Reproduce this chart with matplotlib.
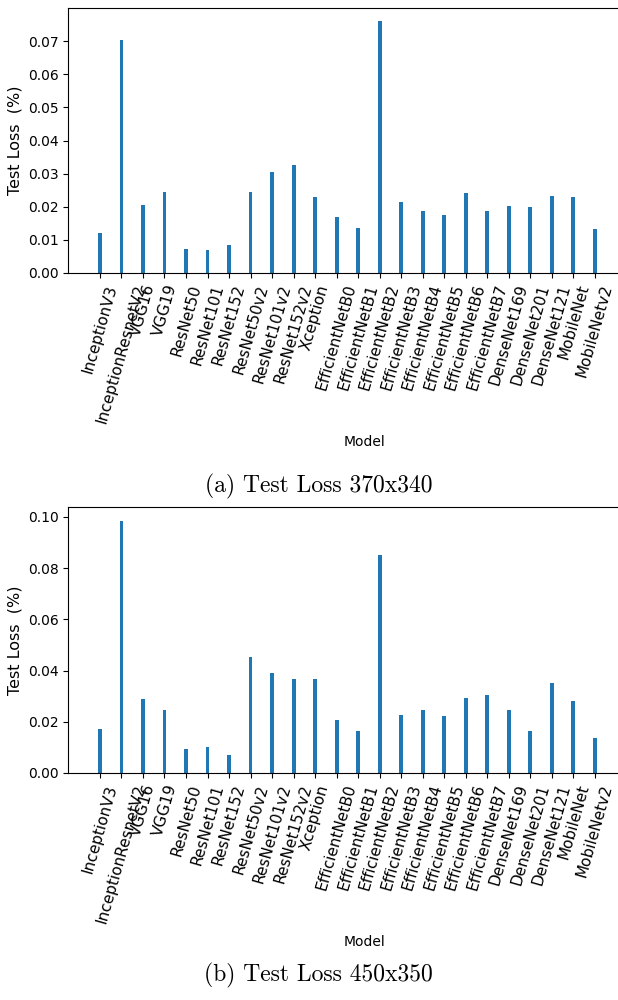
"""Test loss per backbone at two input resolutions, stacked as (a) and (b)."""
import matplotlib
matplotlib.use("Agg")

import matplotlib.pyplot as plt
import numpy as np

models = [
    "InceptionV3", "InceptionResnetV2", "VGG16", "VGG19",
    "ResNet50", "ResNet101", "ResNet152",
    "ResNet50v2", "ResNet101v2", "ResNet152v2", "Xception",
    "EfficientNetB0", "EfficientNetB1", "EfficientNetB2", "EfficientNetB3",
    "EfficientNetB4", "EfficientNetB5", "EfficientNetB6", "EfficientNetB7",
    "DenseNet169", "DenseNet201", "DenseNet121", "MobileNet", "MobileNetv2",
]

loss_370x340 = [
    0.0121, 0.0704, 0.0204, 0.0246, 0.0072, 0.0068, 0.0084,
    0.0244, 0.0306, 0.0326, 0.0230,
    0.0170, 0.0137, 0.0762, 0.0215, 0.0187, 0.0174, 0.0241, 0.0186,
    0.0201, 0.0199, 0.0231, 0.0230, 0.0133,
]

loss_450x350 = [
    0.0171, 0.0986, 0.0288, 0.0248, 0.0095, 0.0100, 0.0070,
    0.0454, 0.0390, 0.0368, 0.0366,
    0.0206, 0.0165, 0.0851, 0.0226, 0.0245, 0.0224, 0.0291, 0.0305,
    0.0248, 0.0166, 0.0351, 0.0280, 0.0137,
]

panels = [
    (loss_370x340, np.arange(0, 0.071, 0.01), 0.0800, "(a) Test Loss 370x340"),
    (loss_450x350, np.arange(0, 0.101, 0.02), 0.1039, "(b) Test Loss 450x350"),
]

BAR_COLOR = "#1f77b4"

fig = plt.figure(figsize=(6.18, 10), dpi=100)

# Each axes runs past the right edge of the canvas, so no right spine shows.
rects = [(0.1105, 0.727, 0.96, 0.265), (0.1105, 0.227, 0.96, 0.266)]
caption_y = [0.514, 0.025]

x = np.arange(len(models))
for (values, yticks, ymax, caption), rect, cy in zip(panels, rects, caption_y):
    ax = fig.add_axes(rect)
    ax.bar(x, values, width=0.18, color=BAR_COLOR)
    ax.set_xlim(-1.47, 26.1)
    ax.set_ylim(0, ymax)
    ax.set_xticks(x)
    ax.set_xticklabels(models, rotation=74, fontsize=11)
    ax.set_yticks(yticks)
    ax.set_yticklabels([f"{v:.2f}" for v in yticks], fontsize=10)
    ax.set_xlabel("Model", fontsize=10, labelpad=7)
    ax.set_ylabel("Test Loss  (%)", fontsize=11.5)
    fig.text(0.515, cy, caption, ha="center", va="center",
             fontsize=17, family="cmr10")

fig.savefig("out.png", dpi=100, facecolor="white")
